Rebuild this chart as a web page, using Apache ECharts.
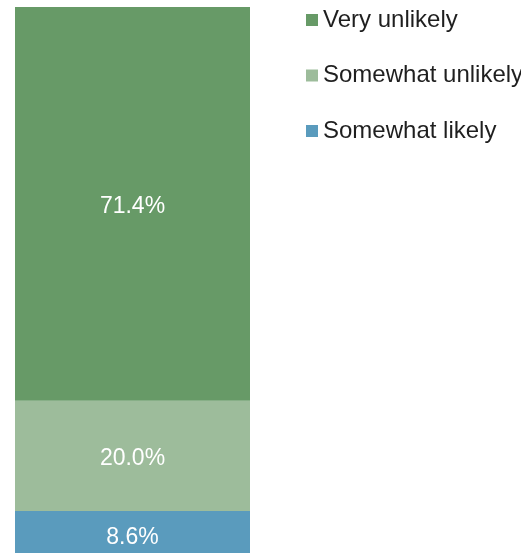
<!DOCTYPE html>
<html>
<head>
<meta charset="utf-8">
<script src="https://cdn.jsdelivr.net/npm/echarts@6/dist/echarts.min.js"></script>
<style>
  html, body { margin: 0; padding: 0; background: #fff; overflow: hidden; }
  /* the bar runs a few pixels past the bottom edge of the view */
  #chart { width: 521px; height: 562px; }
</style>
</head>
<body>
<div id="chart"></div>
<script>
// Response shares (percent), stacked bottom to top
const categories = ['All'];
const seriesNames = ['Somewhat likely', 'Somewhat unlikely', 'Very unlikely'];
const somewhatLikely = [8.6];
const somewhatUnlikely = [20.0];
const veryUnlikely = [71.4];
const legendOrder = ['Very unlikely', 'Somewhat unlikely', 'Somewhat likely'];

const values = [somewhatLikely, somewhatUnlikely, veryUnlikely];
const colors = ['#5a9bbd', '#9dbc9b', '#679a67'];
const FONT = "'Liberation Sans', Arial, sans-serif";

const chart = echarts.init(document.getElementById('chart'), null, { renderer: 'canvas' });

chart.setOption({
  animation: false,
  backgroundColor: '#ffffff',
  grid: { left: 15, top: 7, width: 235, height: 551.5 },
  xAxis: { type: 'category', data: categories, show: false },
  yAxis: { type: 'value', min: 0, max: 100, show: false },
  legend: {
    orient: 'vertical',
    left: 306,
    top: 8,
    padding: 0,
    itemWidth: 12,
    itemHeight: 12,
    itemGap: 31.5,
    icon: 'rect',
    data: legendOrder,
    textStyle: { fontFamily: FONT, fontSize: 24, lineHeight: 24, color: '#1f1f1f' },
    selectedMode: false
  },
  series: seriesNames.map((name, i) => ({
    name: name,
    type: 'bar',
    stack: 'total',
    barWidth: '100%',
    data: values[i],
    itemStyle: { color: colors[i] },
    label: {
      show: true,
      position: 'inside',
      offset: [0, 3],
      color: '#ffffff',
      fontFamily: FONT,
      fontSize: 23,
      formatter: p => p.value.toFixed(1) + '%'
    }
  }))
});
</script>
</body>
</html>
